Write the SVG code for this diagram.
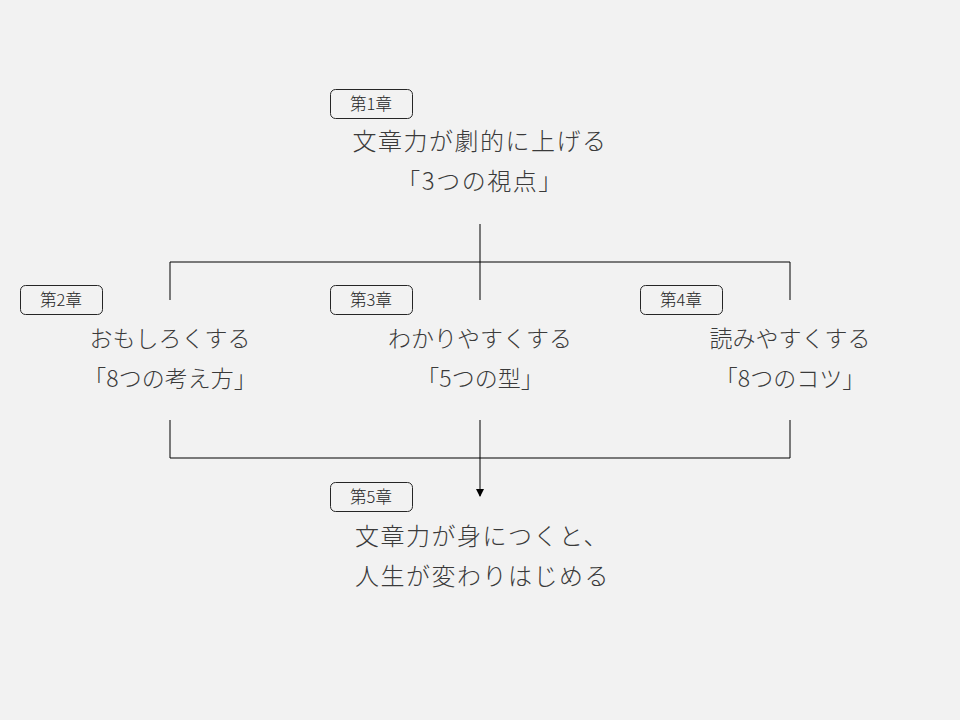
<svg xmlns="http://www.w3.org/2000/svg" width="960" height="720" viewBox="0 0 960 720">
<defs>
<style>
.badge rect{fill:none;stroke:#262626;stroke-width:1}
.badge text{font-family:"Noto Sans CJK JP","Noto Sans",sans-serif;font-size:16.5px;font-weight:300;fill:#262626;text-anchor:middle}
.t{font-family:"Noto Sans CJK JP","Noto Sans",sans-serif;font-size:24px;font-weight:300;fill:#3a3a3a;letter-spacing:1.5px}
.k{font-size:23px;letter-spacing:0}
.c{text-anchor:middle}
.conn line{stroke:#000;stroke-width:1}
</style>
<marker id="arr" markerWidth="8" markerHeight="8" refX="7" refY="4" orient="auto" markerUnits="userSpaceOnUse">
<path d="M0,0 L8,4 L0,8 Z" fill="#000"/>
</marker>
</defs>
<rect width="960" height="720" fill="#f2f2f2"/>
<g id="conn" class="conn">
<line x1="480" y1="224" x2="480" y2="300"/>
<line x1="170" y1="262" x2="790" y2="262"/>
<line x1="170" y1="262" x2="170" y2="300"/>
<line x1="790" y1="262" x2="790" y2="300"/>
<line x1="170" y1="420" x2="170" y2="458"/>
<line x1="790" y1="420" x2="790" y2="458"/>
<line x1="170" y1="458" x2="790" y2="458"/>
<line x1="480" y1="420" x2="480" y2="496" marker-end="url(#arr)"/>
</g>
<g id="ch1">
<g class="badge"><rect x="330.5" y="89.5" width="82" height="29" rx="5"/><text x="371" y="109.5">第1章</text></g>
<text class="t c" x="480" y="150">文章力が劇的に上げる</text>
<text class="t c" x="480" y="190">「3つの視点」</text>
</g>
<g id="ch2">
<g class="badge"><rect x="20.5" y="285.5" width="82" height="29" rx="5"/><text x="61" y="305.5">第2章</text></g>
<text class="t k c" x="170" y="347">おもしろくする</text>
<text class="t k c" x="170" y="387">「8つの考え方」</text>
</g>
<g id="ch3">
<g class="badge"><rect x="330.5" y="285.5" width="82" height="29" rx="5"/><text x="371" y="305.5">第3章</text></g>
<text class="t k c" x="480" y="347">わかりやすくする</text>
<text class="t k c" x="480" y="387">「5つの型」</text>
</g>
<g id="ch4">
<g class="badge"><rect x="640.5" y="285.5" width="82" height="29" rx="5"/><text x="681" y="305.5">第4章</text></g>
<text class="t k c" x="790" y="347">読みやすくする</text>
<text class="t k c" x="790" y="387">「8つのコツ」</text>
</g>
<g id="ch5">
<g class="badge"><rect x="330.5" y="482.5" width="82" height="29" rx="5"/><text x="371" y="502.5">第5章</text></g>
<text class="t" x="355" y="545">文章力が身につくと、</text>
<text class="t" x="355" y="585">人生が変わりはじめる</text>
</g>
</svg>
